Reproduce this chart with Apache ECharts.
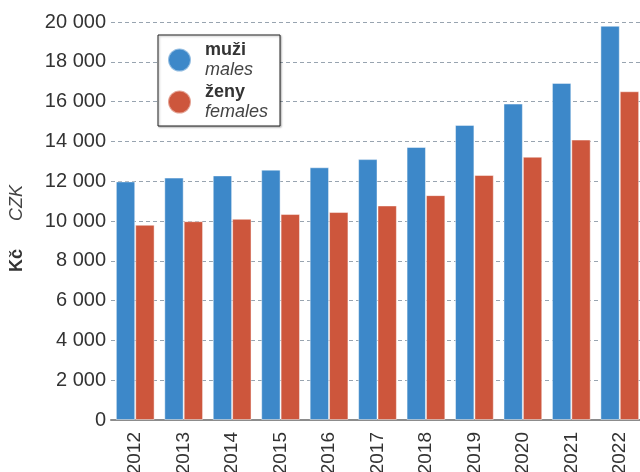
<!DOCTYPE html>
<html>
<head>
<meta charset="utf-8">
<script src="https://cdn.jsdelivr.net/npm/echarts@6/dist/echarts.min.js"></script>
<style>
  html, body { margin: 0; padding: 0; background: #fff; }
  #chart { width: 640px; height: 472px; }
</style>
</head>
<body>
<div id="chart"></div>
<script>
var years = ['2012', '2013', '2014', '2015', '2016', '2017', '2018', '2019', '2020', '2021', '2022'];
var males = [11990, 12180, 12290, 12580, 12700, 13110, 13720, 14830, 15900, 16940, 19810];
var females = [9810, 9990, 10110, 10350, 10450, 10780, 11300, 12310, 13230, 14090, 16520];

var font = '"Liberation Sans", Arial, sans-serif';

var myChart = echarts.init(document.getElementById('chart'));

var option = {
  animation: false,
  textStyle: { fontFamily: font },
  grid: { left: 111, right: -4, top: 22, bottom: 52, outerBoundsMode: 'none', containLabel: false },
  legend: {
    orient: 'vertical',
    left: 158,
    top: 35,
    padding: [6, 12, 5, 9],
    itemGap: 4,
    itemWidth: 23,
    itemHeight: 23,
    icon: 'circle',
    borderColor: '#222',
    borderWidth: 1,
    shadowColor: 'rgba(0,0,0,0.3)',
    shadowBlur: 2,
    shadowOffsetX: 1,
    shadowOffsetY: 1,
    backgroundColor: '#fff',
    formatter: function (name) {
      var en = name === 'muži' ? 'males' : 'females';
      return '{b|' + name + '}\n{i|' + en + '}';
    },
    textStyle: {
      padding: [0, 0, 0, 9],
      rich: {
        b: { fontFamily: font, fontSize: 18, fontWeight: 'bold', color: '#333', lineHeight: 20 },
        i: { fontFamily: font, fontSize: 18, fontStyle: 'italic', color: '#444', lineHeight: 20 }
      }
    }
  },
  graphic: [
    {
      type: 'text', x: 8, y: 272, rotation: Math.PI / 2,
      style: { text: 'Kč', fontFamily: font, fontSize: 18, fontWeight: 'bold', fill: '#333' }
    },
    {
      type: 'text', x: 8, y: 221, rotation: Math.PI / 2,
      style: { text: 'CZK', fontFamily: font, fontSize: 18, fontStyle: 'italic', fill: '#444' }
    }
  ],
  xAxis: {
    type: 'category',
    data: years,
    axisLine: { lineStyle: { color: '#8c8c8c', width: 2 } },
    axisTick: { show: false },
    axisLabel: { rotate: 90, margin: 12, fontSize: 19, color: '#333', fontFamily: font }
  },
  yAxis: {
    type: 'value',
    min: 0,
    max: 20000,
    interval: 2000,
    axisLine: { show: false },
    axisTick: { show: false },
    axisLabel: {
      margin: 5, fontSize: 20, color: '#333', fontFamily: font,
      formatter: function (v) { return String(v).replace(/\B(?=(\d{3})+(?!\d))/g, ' '); }
    },
    splitLine: { lineStyle: { color: '#98a4b0', type: [4, 3], width: 1 } }
  },
  series: [
    {
      name: 'muži',
      type: 'bar',
      data: males,
      barGap: '0%',
      barCategoryGap: '20%',
      itemStyle: { color: '#3d88c9', borderColor: 'rgba(255,255,255,0.45)', borderWidth: 1 }
    },
    {
      name: 'ženy',
      type: 'bar',
      data: females,
      itemStyle: { color: '#cd563c', borderColor: 'rgba(255,255,255,0.45)', borderWidth: 1 }
    }
  ]
};

myChart.setOption(option);
</script>
</body>
</html>
